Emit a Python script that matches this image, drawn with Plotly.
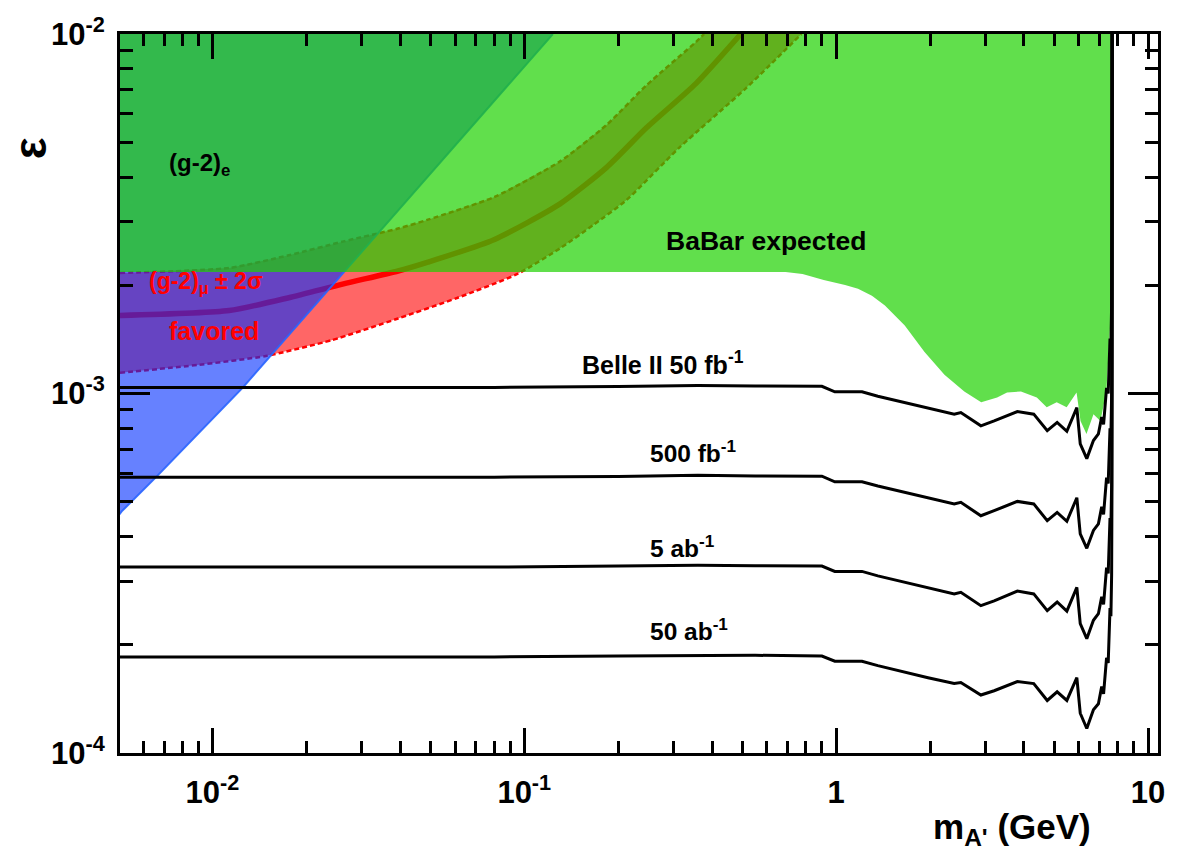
import numpy as np
import plotly.graph_objects as go

# ---------------- data ----------------
# Belle II expected sensitivity curves (dark photon mass in GeV, epsilon)
mass_belle = [0.005, 0.02, 0.08, 0.2, 0.36, 0.55, 0.90, 0.99, 1.21, 1.36, 1.97, 2.39, 2.51,
              2.91, 3.21, 3.81, 4.30, 4.75, 5.11, 5.49, 5.91, 6.06, 6.36, 6.68, 6.93, 7.10,
              7.20, 7.36, 7.45, 7.55, 7.60, 7.64, 7.66, 7.67]
eps_50fb = [1.040e-3, 1.040e-3, 1.040e-3, 1.046e-3, 1.052e-3, 1.050e-3, 1.047e-3, 1.011e-3,
            1.011e-3, 0.983e-3, 0.913e-3, 0.876e-3, 0.885e-3, 0.813e-3, 0.839e-3, 0.891e-3,
            0.876e-3, 0.788e-3, 0.831e-3, 0.785e-3, 0.913e-3, 0.724e-3, 0.659e-3, 0.740e-3,
            0.772e-3, 0.860e-3, 0.820e-3, 1.037e-3, 1.000e-3, 1.422e-3, 1.350e-3, 1.756e-3,
            3.0e-3, 1.0e-2]
eps_500fb = [0.585e-3, 0.585e-3, 0.585e-3, 0.588e-3, 0.592e-3, 0.590e-3, 0.589e-3, 0.568e-3,
             0.568e-3, 0.553e-3, 0.513e-3, 0.493e-3, 0.498e-3, 0.457e-3, 0.472e-3, 0.501e-3,
             0.493e-3, 0.443e-3, 0.467e-3, 0.441e-3, 0.513e-3, 0.407e-3, 0.371e-3, 0.416e-3,
             0.434e-3, 0.484e-3, 0.461e-3, 0.583e-3, 0.562e-3, 0.800e-3, 0.759e-3, 0.987e-3,
             1.69e-3, 1.0e-2]
eps_5ab = [0.329e-3, 0.329e-3, 0.329e-3, 0.331e-3, 0.333e-3, 0.332e-3, 0.331e-3, 0.320e-3,
           0.320e-3, 0.311e-3, 0.289e-3, 0.277e-3, 0.280e-3, 0.257e-3, 0.265e-3, 0.282e-3,
           0.277e-3, 0.249e-3, 0.263e-3, 0.248e-3, 0.289e-3, 0.229e-3, 0.208e-3, 0.234e-3,
           0.244e-3, 0.272e-3, 0.259e-3, 0.328e-3, 0.316e-3, 0.450e-3, 0.427e-3, 0.555e-3,
           0.95e-3, 1.0e-2]
eps_50ab = [0.185e-3, 0.185e-3, 0.185e-3, 0.186e-3, 0.187e-3, 0.187e-3, 0.186e-3, 0.180e-3,
            0.180e-3, 0.175e-3, 0.162e-3, 0.156e-3, 0.157e-3, 0.145e-3, 0.149e-3, 0.158e-3,
            0.156e-3, 0.140e-3, 0.148e-3, 0.140e-3, 0.162e-3, 0.129e-3, 0.117e-3, 0.132e-3,
            0.137e-3, 0.153e-3, 0.146e-3, 0.184e-3, 0.178e-3, 0.253e-3, 0.240e-3, 0.312e-3,
            0.533e-3, 1.0e-2]

# BaBar expected exclusion (lower boundary of the excluded region)
mass_babar = [0.005, 0.688, 0.78, 0.912, 1.068, 1.175, 1.302, 1.433, 1.659, 1.920, 2.224,
              2.575, 2.917, 3.281, 3.530, 3.912, 4.398, 4.732, 5.093, 5.482, 5.898, 6.073,
              6.346, 6.682, 7.034, 7.350, 7.568, 7.624, 7.64]
eps_babar = [2.177e-3, 2.177e-3, 2.15e-3, 2.07e-3, 2.005e-3, 1.955e-3, 1.871e-3, 1.756e-3,
             1.547e-3, 1.304e-3, 1.128e-3, 1.013e-3, 0.945e-3, 0.975e-3, 1.006e-3, 1.013e-3,
             0.975e-3, 0.915e-3, 0.945e-3, 0.915e-3, 1.006e-3, 0.838e-3, 0.772e-3, 0.876e-3,
             0.838e-3, 1.013e-3, 1.576e-3, 2.123e-3, 1.0e-2]

# (g-2)_e excluded region (lower-right boundary)
mass_ge = [0.005, 0.00512, 0.006695, 0.01249, 0.02633, 0.1213, 0.1235]
eps_ge = [4.58e-4, 4.70e-4, 5.93e-4, 1.037e-3, 2.168e-3, 9.79e-3, 1.0e-2]

# (g-2)_mu +- 2 sigma favoured band: upper edge, central value, lower edge
mass_gm_up = [0.005055, 0.01132, 0.01758, 0.02633, 0.03939, 0.04911, 0.08027, 0.1302,
              0.1837, 0.2464, 0.3556, 0.3771]
eps_gm_up = [2.164e-3, 2.234e-3, 2.424e-3, 2.649e-3, 2.876e-3, 3.045e-3, 3.522e-3, 4.422e-3,
             5.588e-3, 7.20e-3, 9.51e-3, 1.0e-2]
mass_gm_c = [0.005055, 0.01132, 0.01758, 0.02633, 0.03939, 0.04911, 0.08027, 0.1302, 0.1837,
             0.2464, 0.3556, 0.4946]
eps_gm_c = [1.648e-3, 1.701e-3, 1.847e-3, 2.018e-3, 2.192e-3, 2.320e-3, 2.683e-3, 3.369e-3,
            4.257e-3, 5.483e-3, 7.29e-3, 1.0e-2]
mass_gm_lo = [0.005055, 0.00909, 0.01486, 0.02411, 0.03939, 0.06118, 0.0950, 0.1302, 0.1671,
              0.2128, 0.3140, 0.5131, 0.7737]
eps_gm_lo = [1.142e-3, 1.202e-3, 1.272e-3, 1.407e-3, 1.617e-3, 1.847e-3, 2.150e-3, 2.534e-3,
             2.950e-3, 3.455e-3, 4.831e-3, 7.06e-3, 1.0e-2]

x_tickvals = [0.01, 0.1, 1, 10]
x_ticktext = ["10<sup>-2</sup>", "10<sup>-1</sup>", "1", "10"]
y_tickvals = [1e-4, 1e-3, 1e-2]
y_ticktext = ["10<sup>-4</sup>", "10<sup>-3</sup>", "10<sup>-2</sup>"]
x_minor = [m * 10.0 ** e for e in (-3, -2, -1, 0) for m in range(2, 10)]
y_minor = [m * 10.0 ** e for e in (-4, -3) for m in range(2, 10)]

EPS_TOP = 1e-2
FONT = "Liberation Sans, Arial, Helvetica, sans-serif"

fig = go.Figure()

# red (g-2)_mu band
band_x = mass_gm_up + mass_gm_lo[::-1]
band_y = eps_gm_up + eps_gm_lo[::-1]
fig.add_trace(go.Scatter(x=band_x, y=band_y, fill="toself", mode="lines",
                         line=dict(width=0), fillcolor="rgba(255,0,0,0.6)",
                         hoverinfo="skip", showlegend=False))
for mx, ey in ((mass_gm_up, eps_gm_up), (mass_gm_lo, eps_gm_lo)):
    fig.add_trace(go.Scatter(x=mx, y=ey, mode="lines",
                             line=dict(color="rgb(255,0,0)", width=2.5, dash="5px,3px",
                                       shape="spline", smoothing=0.6),
                             hoverinfo="skip", showlegend=False))
fig.add_trace(go.Scatter(x=mass_gm_c, y=eps_gm_c, mode="lines",
                         line=dict(color="rgb(255,0,0)", width=5.5, shape="spline",
                                   smoothing=0.6),
                         hoverinfo="skip", showlegend=False))

# blue (g-2)_e region
ge_x = mass_ge + [mass_ge[0]]
ge_y = eps_ge + [EPS_TOP]
fig.add_trace(go.Scatter(x=ge_x, y=ge_y, fill="toself", mode="lines",
                         line=dict(width=0), fillcolor="rgba(0,45,255,0.6)",
                         hoverinfo="skip", showlegend=False))
fig.add_trace(go.Scatter(x=mass_ge, y=eps_ge, mode="lines",
                         line=dict(color="rgba(40,100,255,0.9)", width=2),
                         hoverinfo="skip", showlegend=False))

# green BaBar expected region
bb_x = mass_babar + [mass_babar[0]]
bb_y = eps_babar + [EPS_TOP]
fig.add_trace(go.Scatter(x=bb_x, y=bb_y, fill="toself", mode="lines",
                         line=dict(width=0), fillcolor="rgba(30,210,0,0.7)",
                         hoverinfo="skip", showlegend=False))

# Belle II curves
for ey in (eps_50fb, eps_500fb, eps_5ab, eps_50ab):
    fig.add_trace(go.Scatter(x=mass_belle, y=ey, mode="lines",
                             line=dict(color="black", width=3),
                             hoverinfo="skip", showlegend=False))

ax_common = dict(type="log", showgrid=False, zeroline=False, showline=True,
                 linecolor="black", linewidth=3, mirror="allticks",
                 ticks="inside", tickwidth=3, tickcolor="black",
                 tickfont=dict(family=FONT, size=31, color="black"))

fig.update_xaxes(**ax_common, range=[-2.2962, 1.0318], tickmode="array",
                 tickvals=x_tickvals, ticktext=["<b>%s</b>" % t for t in x_ticktext],
                 ticklen=25,
                 minor=dict(tickmode="array", tickvals=x_minor, ticks="inside",
                            ticklen=12, tickwidth=3, tickcolor="black", showgrid=False),
                 ticklabelstandoff=10)
fig.update_yaxes(**ax_common, range=[-4, -2], tickmode="array",
                 tickvals=y_tickvals, ticktext=["<b>%s</b>" % t for t in y_ticktext],
                 ticklen=30,
                 minor=dict(tickmode="array", tickvals=y_minor, ticks="inside",
                            ticklen=13, tickwidth=3, tickcolor="black", showgrid=False),
                 ticklabelstandoff=6)

def lx(v):
    return float(np.log10(v))

labels = [
    ("<b>(g-2)<sub>e</sub></b>", 0.00714, 4.10e-3, "black", 24, 9),
    ("<b>(g-2)<sub>μ</sub> ± 2σ</b>", 0.00616, 1.98e-3, "rgb(255,0,0)", 23, 4),
    ("<b>favored</b>", 0.00714, 1.434e-3, "rgb(255,0,0)", 25, 6),
    ("<b>BaBar expected</b>", 0.2812, 2.566e-3, "black", 26.5, 5),
    ("<b>Belle II 50 fb<sup>-1</sup></b>", 0.1508, 1.171e-3, "black", 25, 6),
    ("<b>500 fb<sup>-1</sup></b>", 0.250, 6.63e-4, "black", 24.5, 6),
    ("<b>5 ab<sup>-1</sup></b>", 0.250, 3.634e-4, "black", 24.5, 5),
    ("<b>50 ab<sup>-1</sup></b>", 0.250, 2.150e-4, "black", 24.5, 4),
]
for text, xv, yv, col, sz, ys in labels:
    fig.add_annotation(x=lx(xv), y=lx(yv), xref="x", yref="y", text=text,
                       showarrow=False, xanchor="left", yanchor="middle", yshift=ys,
                       font=dict(family=FONT, size=sz, color=col))

fig.add_annotation(x=-0.0871, y=0.8407, xref="paper", yref="paper", text="<b>ε</b>",
                   showarrow=False, textangle=-90, xanchor="center", yanchor="middle",
                   font=dict(family=FONT, size=46, color="black"))
fig.add_annotation(x=0.9378, y=-0.1058, xref="paper", yref="paper",
                   text="<b>m<sub>A'</sub> (GeV)</b>",
                   showarrow=False, xanchor="right", yanchor="middle",
                   font=dict(family=FONT, size=35, color="black"))

fig.update_layout(width=1177, height=852, autosize=False,
                  margin=dict(l=120, r=12, t=25, b=99),
                  paper_bgcolor="white", plot_bgcolor="white", showlegend=False)

fig.write_html("out.html")
